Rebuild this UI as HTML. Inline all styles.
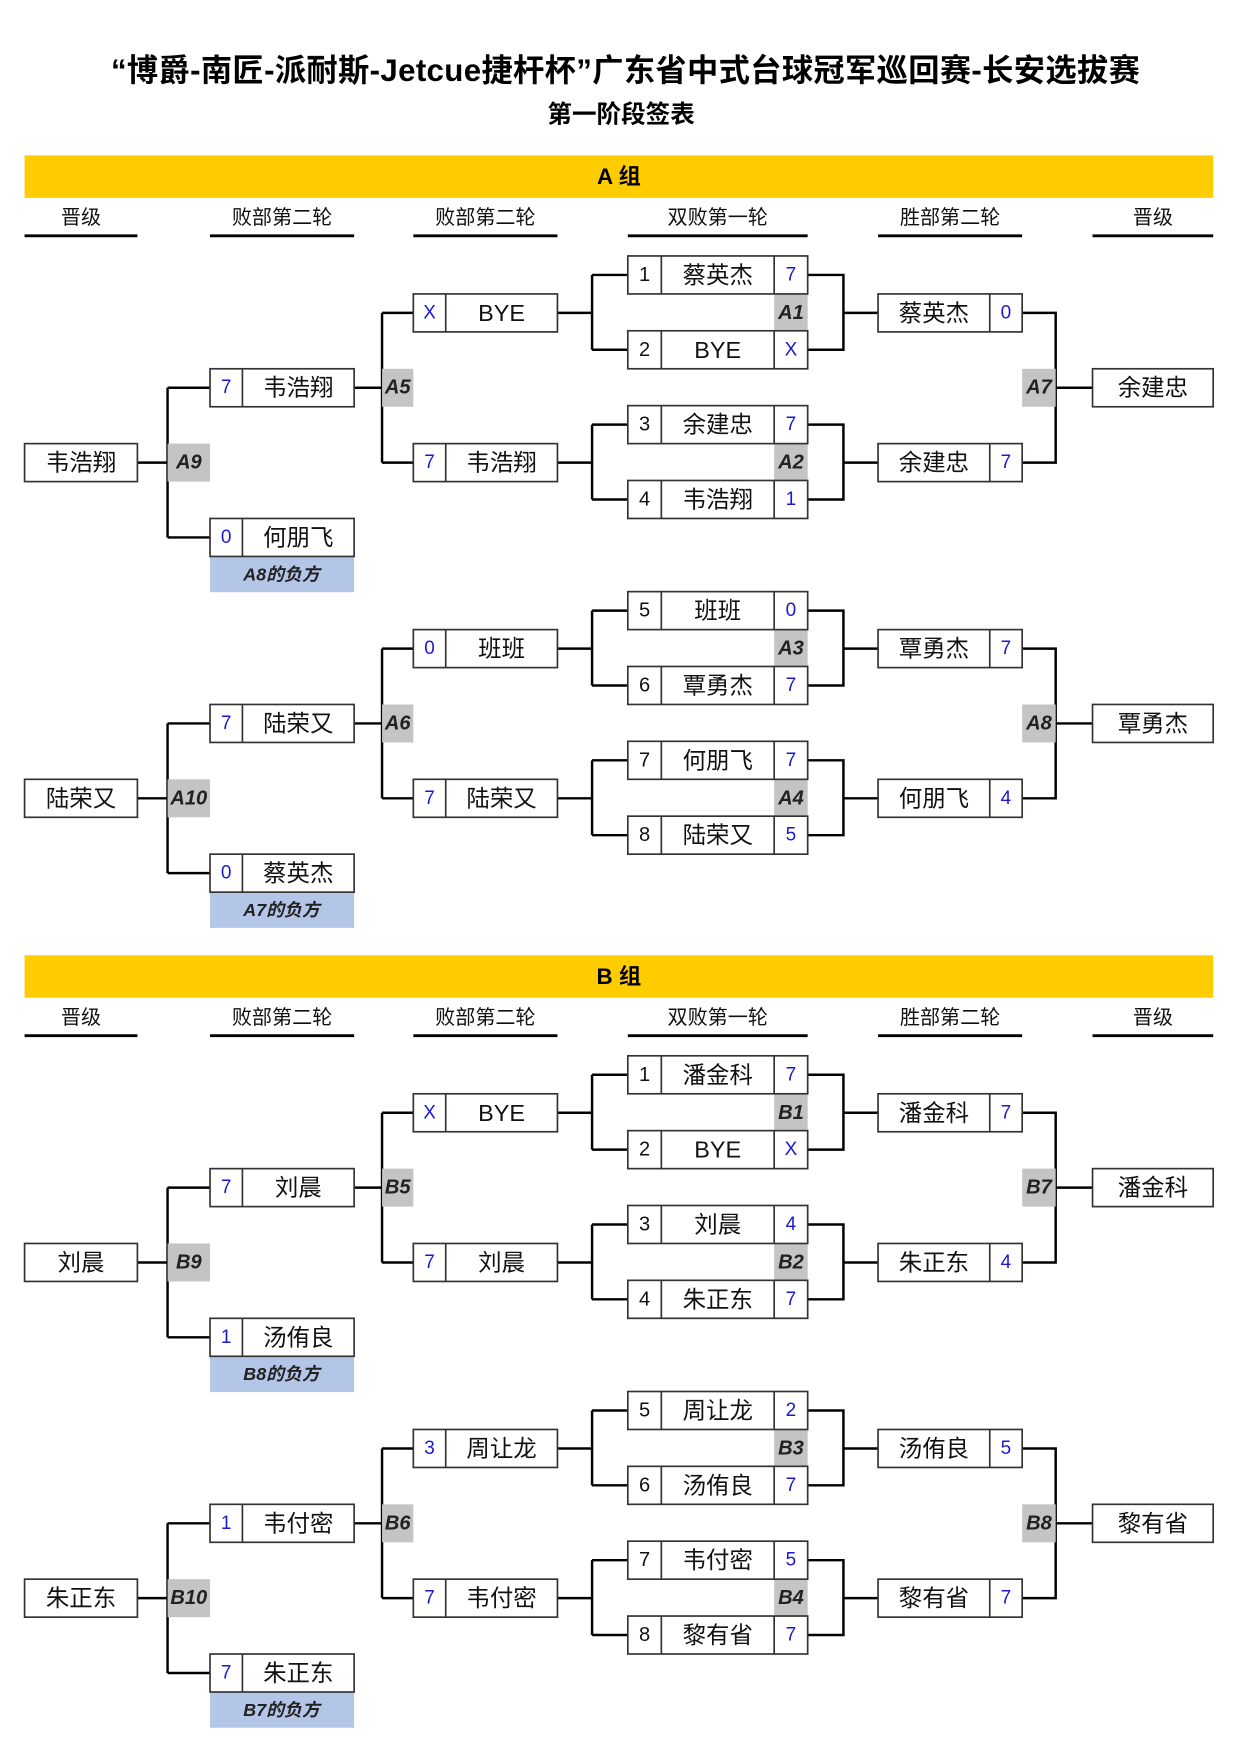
<!DOCTYPE html>
<html><head><meta charset="utf-8"><style>
html,body{margin:0;padding:0;background:#fff;width:1240px;height:1753px;overflow:hidden}
svg{display:block}
text{font-family:"Liberation Sans","Noto Sans CJK SC",sans-serif;dominant-baseline:central;text-anchor:middle}
.n{font-size:21px;fill:#111}
.s{font-size:17px;fill:#1a1ad0}
.d{font-size:18px;fill:#111}
.l{font-size:18px;font-weight:bold;font-style:italic;fill:#222}
.h{font-size:18px;fill:#111}
.b{fill:#fff;stroke:#333;stroke-width:1.5}
.w{fill:none;stroke:#000;stroke-width:2.2}
.g{fill:#c4c4c4}
.lb{fill:#b4c6e7}
</style></head><body>
<svg width="1240" height="1753" viewBox="0 0 1110 1569" xmlns="http://www.w3.org/2000/svg">
<text x="560" y="63" style="font-size:28px;font-weight:bold;letter-spacing:0.3px">“博爵-南匠-派耐斯-Jetcue捷杆杯”广东省中式台球冠军巡回赛-长安选拔赛</text>
<text x="556" y="103" style="font-size:22px;font-weight:bold">第一阶段签表</text>

<g>
<rect x="22" y="139" width="1064" height="38" fill="#ffcc00"/>
<text x="554" y="158" style="font-size:20px;font-weight:bold">A 组</text>
<text class="h" x="72.5" y="195">晋级</text><text class="h" x="252.5" y="195">败部第二轮</text><text class="h" x="434.5" y="195">败部第二轮</text><text class="h" x="642.5" y="195">双败第一轮</text><text class="h" x="850.5" y="195">胜部第二轮</text><text class="h" x="1032" y="195">晋级</text>
<path d="M22 211H123M188 211H317M370 211H499M562 211H723M786 211H915M978 211H1086" stroke="#000" stroke-width="2.5"/>
</g>
<g transform="translate(0,716)">
<rect x="22" y="139" width="1064" height="38" fill="#ffcc00"/>
<text x="554" y="158" style="font-size:20px;font-weight:bold">B 组</text>
<text class="h" x="72.5" y="195">晋级</text><text class="h" x="252.5" y="195">败部第二轮</text><text class="h" x="434.5" y="195">败部第二轮</text><text class="h" x="642.5" y="195">双败第一轮</text><text class="h" x="850.5" y="195">胜部第二轮</text><text class="h" x="1032" y="195">晋级</text>
<path d="M22 211H123M188 211H317M370 211H499M562 211H723M786 211H915M978 211H1086" stroke="#000" stroke-width="2.5"/>
</g>

<g transform="translate(0,0)">
<path class="w" d="M123 414H150M150 347V481M150 347H188M150 481H188M317 347H342M342 280V414M342 280H370M342 414H370M499 280H530M530 246V313M530 246H562M530 313H562M499 414H530M530 380V447M530 380H562M530 447H562M723 246H755V313H723M755 280H786M723 380H755V447H723M755 414H786M915 280H945V414H915M945 347H978"/>
<rect class="g" x="150" y="397" width="38" height="34"/><rect class="g" x="342" y="330" width="28" height="34"/><rect class="g" x="693" y="263" width="30" height="34"/><rect class="g" x="693" y="397" width="30" height="34"/><rect class="g" x="915" y="330" width="30" height="34"/>
<rect class="lb" x="188" y="498" width="129" height="32"/>
<rect class="b" x="22" y="397" width="101" height="34"/>
<rect class="b" x="188" y="330" width="129" height="34"/><path class="b" d="M217 330V364"/>
<rect class="b" x="188" y="464" width="129" height="34"/><path class="b" d="M217 464V498"/>
<rect class="b" x="370" y="263" width="129" height="34"/><path class="b" d="M399 263V297"/>
<rect class="b" x="370" y="397" width="129" height="34"/><path class="b" d="M399 397V431"/>
<rect class="b" x="562" y="229" width="161" height="34"/><path class="b" d="M592 229V263M693 229V263"/>
<rect class="b" x="562" y="296" width="161" height="34"/><path class="b" d="M592 296V330M693 296V330"/>
<rect class="b" x="562" y="363" width="161" height="34"/><path class="b" d="M592 363V397M693 363V397"/>
<rect class="b" x="562" y="430" width="161" height="34"/><path class="b" d="M592 430V464M693 430V464"/>
<rect class="b" x="786" y="263" width="129" height="34"/><path class="b" d="M886 263V297"/>
<rect class="b" x="786" y="397" width="129" height="34"/><path class="b" d="M886 397V431"/>
<rect class="b" x="978" y="330" width="108" height="34"/>
<text class="l" x="169" y="414">A9</text><text class="l" x="356" y="347">A5</text><text class="l" x="708" y="280">A1</text><text class="l" x="708" y="414">A2</text><text class="l" x="930" y="347">A7</text>
<text class="l" x="252" y="514" style="font-size:16px">A8的负方</text>
<text class="n" x="72.5" y="414">韦浩翔</text>
<text class="s" x="202.5" y="347">7</text><text class="n" x="267" y="347">韦浩翔</text>
<text class="s" x="202.5" y="481">0</text><text class="n" x="267" y="481">何朋飞</text>
<text class="s" x="384.5" y="280">X</text><text class="n" x="449" y="280">BYE</text>
<text class="s" x="384.5" y="414">7</text><text class="n" x="449" y="414">韦浩翔</text>
<text class="d" x="577" y="246">1</text><text class="n" x="642.5" y="246">蔡英杰</text><text class="s" x="708" y="246">7</text>
<text class="d" x="577" y="313">2</text><text class="n" x="642.5" y="313">BYE</text><text class="s" x="708" y="313">X</text>
<text class="d" x="577" y="380">3</text><text class="n" x="642.5" y="380">余建忠</text><text class="s" x="708" y="380">7</text>
<text class="d" x="577" y="447">4</text><text class="n" x="642.5" y="447">韦浩翔</text><text class="s" x="708" y="447">1</text>
<text class="n" x="836" y="280">蔡英杰</text><text class="s" x="900.5" y="280">0</text>
<text class="n" x="836" y="414">余建忠</text><text class="s" x="900.5" y="414">7</text>
<text class="n" x="1032" y="347">余建忠</text>
</g>

<g transform="translate(0,300.5)">
<path class="w" d="M123 414H150M150 347V481M150 347H188M150 481H188M317 347H342M342 280V414M342 280H370M342 414H370M499 280H530M530 246V313M530 246H562M530 313H562M499 414H530M530 380V447M530 380H562M530 447H562M723 246H755V313H723M755 280H786M723 380H755V447H723M755 414H786M915 280H945V414H915M945 347H978"/>
<rect class="g" x="150" y="397" width="38" height="34"/><rect class="g" x="342" y="330" width="28" height="34"/><rect class="g" x="693" y="263" width="30" height="34"/><rect class="g" x="693" y="397" width="30" height="34"/><rect class="g" x="915" y="330" width="30" height="34"/>
<rect class="lb" x="188" y="498" width="129" height="32"/>
<rect class="b" x="22" y="397" width="101" height="34"/>
<rect class="b" x="188" y="330" width="129" height="34"/><path class="b" d="M217 330V364"/>
<rect class="b" x="188" y="464" width="129" height="34"/><path class="b" d="M217 464V498"/>
<rect class="b" x="370" y="263" width="129" height="34"/><path class="b" d="M399 263V297"/>
<rect class="b" x="370" y="397" width="129" height="34"/><path class="b" d="M399 397V431"/>
<rect class="b" x="562" y="229" width="161" height="34"/><path class="b" d="M592 229V263M693 229V263"/>
<rect class="b" x="562" y="296" width="161" height="34"/><path class="b" d="M592 296V330M693 296V330"/>
<rect class="b" x="562" y="363" width="161" height="34"/><path class="b" d="M592 363V397M693 363V397"/>
<rect class="b" x="562" y="430" width="161" height="34"/><path class="b" d="M592 430V464M693 430V464"/>
<rect class="b" x="786" y="263" width="129" height="34"/><path class="b" d="M886 263V297"/>
<rect class="b" x="786" y="397" width="129" height="34"/><path class="b" d="M886 397V431"/>
<rect class="b" x="978" y="330" width="108" height="34"/>
<text class="l" x="169" y="414">A10</text><text class="l" x="356" y="347">A6</text><text class="l" x="708" y="280">A3</text><text class="l" x="708" y="414">A4</text><text class="l" x="930" y="347">A8</text>
<text class="l" x="252" y="514" style="font-size:16px">A7的负方</text>
<text class="n" x="72.5" y="414">陆荣又</text>
<text class="s" x="202.5" y="347">7</text><text class="n" x="267" y="347">陆荣又</text>
<text class="s" x="202.5" y="481">0</text><text class="n" x="267" y="481">蔡英杰</text>
<text class="s" x="384.5" y="280">0</text><text class="n" x="449" y="280">班班</text>
<text class="s" x="384.5" y="414">7</text><text class="n" x="449" y="414">陆荣又</text>
<text class="d" x="577" y="246">5</text><text class="n" x="642.5" y="246">班班</text><text class="s" x="708" y="246">0</text>
<text class="d" x="577" y="313">6</text><text class="n" x="642.5" y="313">覃勇杰</text><text class="s" x="708" y="313">7</text>
<text class="d" x="577" y="380">7</text><text class="n" x="642.5" y="380">何朋飞</text><text class="s" x="708" y="380">7</text>
<text class="d" x="577" y="447">8</text><text class="n" x="642.5" y="447">陆荣又</text><text class="s" x="708" y="447">5</text>
<text class="n" x="836" y="280">覃勇杰</text><text class="s" x="900.5" y="280">7</text>
<text class="n" x="836" y="414">何朋飞</text><text class="s" x="900.5" y="414">4</text>
<text class="n" x="1032" y="347">覃勇杰</text>
</g>

<g transform="translate(0,716)">
<path class="w" d="M123 414H150M150 347V481M150 347H188M150 481H188M317 347H342M342 280V414M342 280H370M342 414H370M499 280H530M530 246V313M530 246H562M530 313H562M499 414H530M530 380V447M530 380H562M530 447H562M723 246H755V313H723M755 280H786M723 380H755V447H723M755 414H786M915 280H945V414H915M945 347H978"/>
<rect class="g" x="150" y="397" width="38" height="34"/><rect class="g" x="342" y="330" width="28" height="34"/><rect class="g" x="693" y="263" width="30" height="34"/><rect class="g" x="693" y="397" width="30" height="34"/><rect class="g" x="915" y="330" width="30" height="34"/>
<rect class="lb" x="188" y="498" width="129" height="32"/>
<rect class="b" x="22" y="397" width="101" height="34"/>
<rect class="b" x="188" y="330" width="129" height="34"/><path class="b" d="M217 330V364"/>
<rect class="b" x="188" y="464" width="129" height="34"/><path class="b" d="M217 464V498"/>
<rect class="b" x="370" y="263" width="129" height="34"/><path class="b" d="M399 263V297"/>
<rect class="b" x="370" y="397" width="129" height="34"/><path class="b" d="M399 397V431"/>
<rect class="b" x="562" y="229" width="161" height="34"/><path class="b" d="M592 229V263M693 229V263"/>
<rect class="b" x="562" y="296" width="161" height="34"/><path class="b" d="M592 296V330M693 296V330"/>
<rect class="b" x="562" y="363" width="161" height="34"/><path class="b" d="M592 363V397M693 363V397"/>
<rect class="b" x="562" y="430" width="161" height="34"/><path class="b" d="M592 430V464M693 430V464"/>
<rect class="b" x="786" y="263" width="129" height="34"/><path class="b" d="M886 263V297"/>
<rect class="b" x="786" y="397" width="129" height="34"/><path class="b" d="M886 397V431"/>
<rect class="b" x="978" y="330" width="108" height="34"/>
<text class="l" x="169" y="414">B9</text><text class="l" x="356" y="347">B5</text><text class="l" x="708" y="280">B1</text><text class="l" x="708" y="414">B2</text><text class="l" x="930" y="347">B7</text>
<text class="l" x="252" y="514" style="font-size:16px">B8的负方</text>
<text class="n" x="72.5" y="414">刘晨</text>
<text class="s" x="202.5" y="347">7</text><text class="n" x="267" y="347">刘晨</text>
<text class="s" x="202.5" y="481">1</text><text class="n" x="267" y="481">汤侑良</text>
<text class="s" x="384.5" y="280">X</text><text class="n" x="449" y="280">BYE</text>
<text class="s" x="384.5" y="414">7</text><text class="n" x="449" y="414">刘晨</text>
<text class="d" x="577" y="246">1</text><text class="n" x="642.5" y="246">潘金科</text><text class="s" x="708" y="246">7</text>
<text class="d" x="577" y="313">2</text><text class="n" x="642.5" y="313">BYE</text><text class="s" x="708" y="313">X</text>
<text class="d" x="577" y="380">3</text><text class="n" x="642.5" y="380">刘晨</text><text class="s" x="708" y="380">4</text>
<text class="d" x="577" y="447">4</text><text class="n" x="642.5" y="447">朱正东</text><text class="s" x="708" y="447">7</text>
<text class="n" x="836" y="280">潘金科</text><text class="s" x="900.5" y="280">7</text>
<text class="n" x="836" y="414">朱正东</text><text class="s" x="900.5" y="414">4</text>
<text class="n" x="1032" y="347">潘金科</text>
</g>

<g transform="translate(0,1016.5)">
<path class="w" d="M123 414H150M150 347V481M150 347H188M150 481H188M317 347H342M342 280V414M342 280H370M342 414H370M499 280H530M530 246V313M530 246H562M530 313H562M499 414H530M530 380V447M530 380H562M530 447H562M723 246H755V313H723M755 280H786M723 380H755V447H723M755 414H786M915 280H945V414H915M945 347H978"/>
<rect class="g" x="150" y="397" width="38" height="34"/><rect class="g" x="342" y="330" width="28" height="34"/><rect class="g" x="693" y="263" width="30" height="34"/><rect class="g" x="693" y="397" width="30" height="34"/><rect class="g" x="915" y="330" width="30" height="34"/>
<rect class="lb" x="188" y="498" width="129" height="32"/>
<rect class="b" x="22" y="397" width="101" height="34"/>
<rect class="b" x="188" y="330" width="129" height="34"/><path class="b" d="M217 330V364"/>
<rect class="b" x="188" y="464" width="129" height="34"/><path class="b" d="M217 464V498"/>
<rect class="b" x="370" y="263" width="129" height="34"/><path class="b" d="M399 263V297"/>
<rect class="b" x="370" y="397" width="129" height="34"/><path class="b" d="M399 397V431"/>
<rect class="b" x="562" y="229" width="161" height="34"/><path class="b" d="M592 229V263M693 229V263"/>
<rect class="b" x="562" y="296" width="161" height="34"/><path class="b" d="M592 296V330M693 296V330"/>
<rect class="b" x="562" y="363" width="161" height="34"/><path class="b" d="M592 363V397M693 363V397"/>
<rect class="b" x="562" y="430" width="161" height="34"/><path class="b" d="M592 430V464M693 430V464"/>
<rect class="b" x="786" y="263" width="129" height="34"/><path class="b" d="M886 263V297"/>
<rect class="b" x="786" y="397" width="129" height="34"/><path class="b" d="M886 397V431"/>
<rect class="b" x="978" y="330" width="108" height="34"/>
<text class="l" x="169" y="414">B10</text><text class="l" x="356" y="347">B6</text><text class="l" x="708" y="280">B3</text><text class="l" x="708" y="414">B4</text><text class="l" x="930" y="347">B8</text>
<text class="l" x="252" y="514" style="font-size:16px">B7的负方</text>
<text class="n" x="72.5" y="414">朱正东</text>
<text class="s" x="202.5" y="347">1</text><text class="n" x="267" y="347">韦付密</text>
<text class="s" x="202.5" y="481">7</text><text class="n" x="267" y="481">朱正东</text>
<text class="s" x="384.5" y="280">3</text><text class="n" x="449" y="280">周让龙</text>
<text class="s" x="384.5" y="414">7</text><text class="n" x="449" y="414">韦付密</text>
<text class="d" x="577" y="246">5</text><text class="n" x="642.5" y="246">周让龙</text><text class="s" x="708" y="246">2</text>
<text class="d" x="577" y="313">6</text><text class="n" x="642.5" y="313">汤侑良</text><text class="s" x="708" y="313">7</text>
<text class="d" x="577" y="380">7</text><text class="n" x="642.5" y="380">韦付密</text><text class="s" x="708" y="380">5</text>
<text class="d" x="577" y="447">8</text><text class="n" x="642.5" y="447">黎有省</text><text class="s" x="708" y="447">7</text>
<text class="n" x="836" y="280">汤侑良</text><text class="s" x="900.5" y="280">5</text>
<text class="n" x="836" y="414">黎有省</text><text class="s" x="900.5" y="414">7</text>
<text class="n" x="1032" y="347">黎有省</text>
</g>
</svg>
</body></html>
